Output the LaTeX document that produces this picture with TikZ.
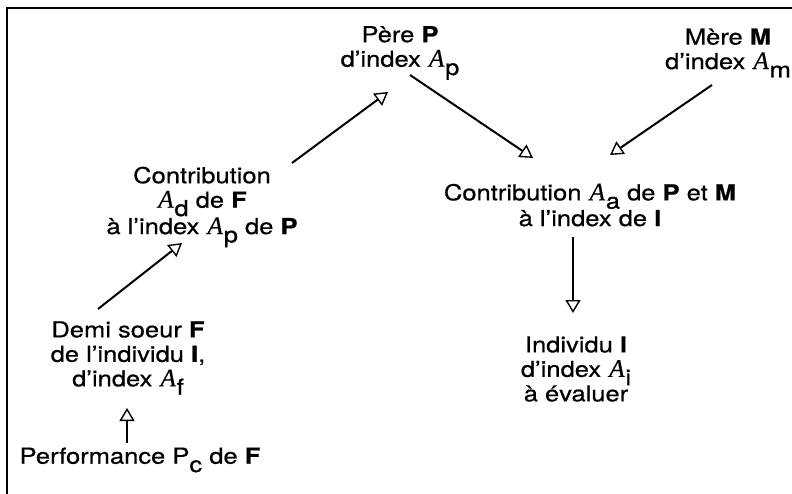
\documentclass[tikz,border=0pt]{standalone}
\usepackage{fontspec}
\setmainfont{TeX Gyre Heros}[FakeStretch=1.16,FakeBold=0.6]
\newfontfamily\Afont{Liberation Serif}[FakeBold=0.5]
\usetikzlibrary{arrows.meta}
\newcommand\Asub[1]{\kern1pt{\Afont\itshape\scalebox{1.15}{A}}\kern0.8pt\raisebox{-0.38em}{#1}}
\newcommand\lowsub[1]{\raisebox{-0.38em}{#1}}
\begin{document}
\begin{tikzpicture}[x=1pt,y=-1pt,
  lbl/.style={align=center, inner sep=0pt, font=\fontsize{22}{24.5}\selectfont},
  arr/.style={line width=2pt, -{Triangle[open,length=13pt,width=15pt,line width=1.4pt]}},
  frame/.style={line width=1.8pt}]
\useasboundingbox (0,0) rectangle (792,494);
\draw[frame] (7,494) -- (7,8) -- (792,8);

\node[lbl] (pere)  at (400,53)  {Père \textbf{P}\\d'index \Asub{p}};
\node[lbl] (mere)  at (728,53)  {Mère \textbf{M}\\d'index \Asub{m}};
\node[lbl] (contA) at (590,205) {Contribution \Asub{a} de \textbf{P} et \textbf{M}\\à l'index de \textbf{I}};
\node[lbl] (indiv) at (576,369) {Individu \textbf{I}\\d'index \Asub{i}\\à évaluer};
\node[lbl] (contD) at (202,207) {Contribution\\\Asub{d} de \textbf{F}\\à l'index \Asub{p} de \textbf{P}};
\node[lbl] (demi)  at (128,358) {Demi soeur \textbf{F}\\de l'individu \textbf{I},\\d'index \Asub{f}};
\node[lbl] (perf)  at (140,460) {Performance P\lowsub{c} de \textbf{F}};

\draw[arr] ([shift={(10,22)}]pere.center) -- ([shift={(-57,-47)}]contA.center);
\draw[arr] ([shift={(-16,32)}]mere.center) -- ([shift={(20,-50)}]contA.center);
\draw[arr] ([shift={(-17,32)}]contA.center) -- ([shift={(-3,-56)}]indiv.center);
\draw[arr] ([shift={(90,-44)}]contD.center) -- ([shift={(-12,39)}]pere.center);
\draw[arr] ([shift={(-30,-49)}]demi.center) -- ([shift={(-20,36)}]contD.center);
\draw[arr] ([shift={(-13,-17)}]perf.center) -- ([shift={(-1,50)}]demi.center);
\end{tikzpicture}
\end{document}
